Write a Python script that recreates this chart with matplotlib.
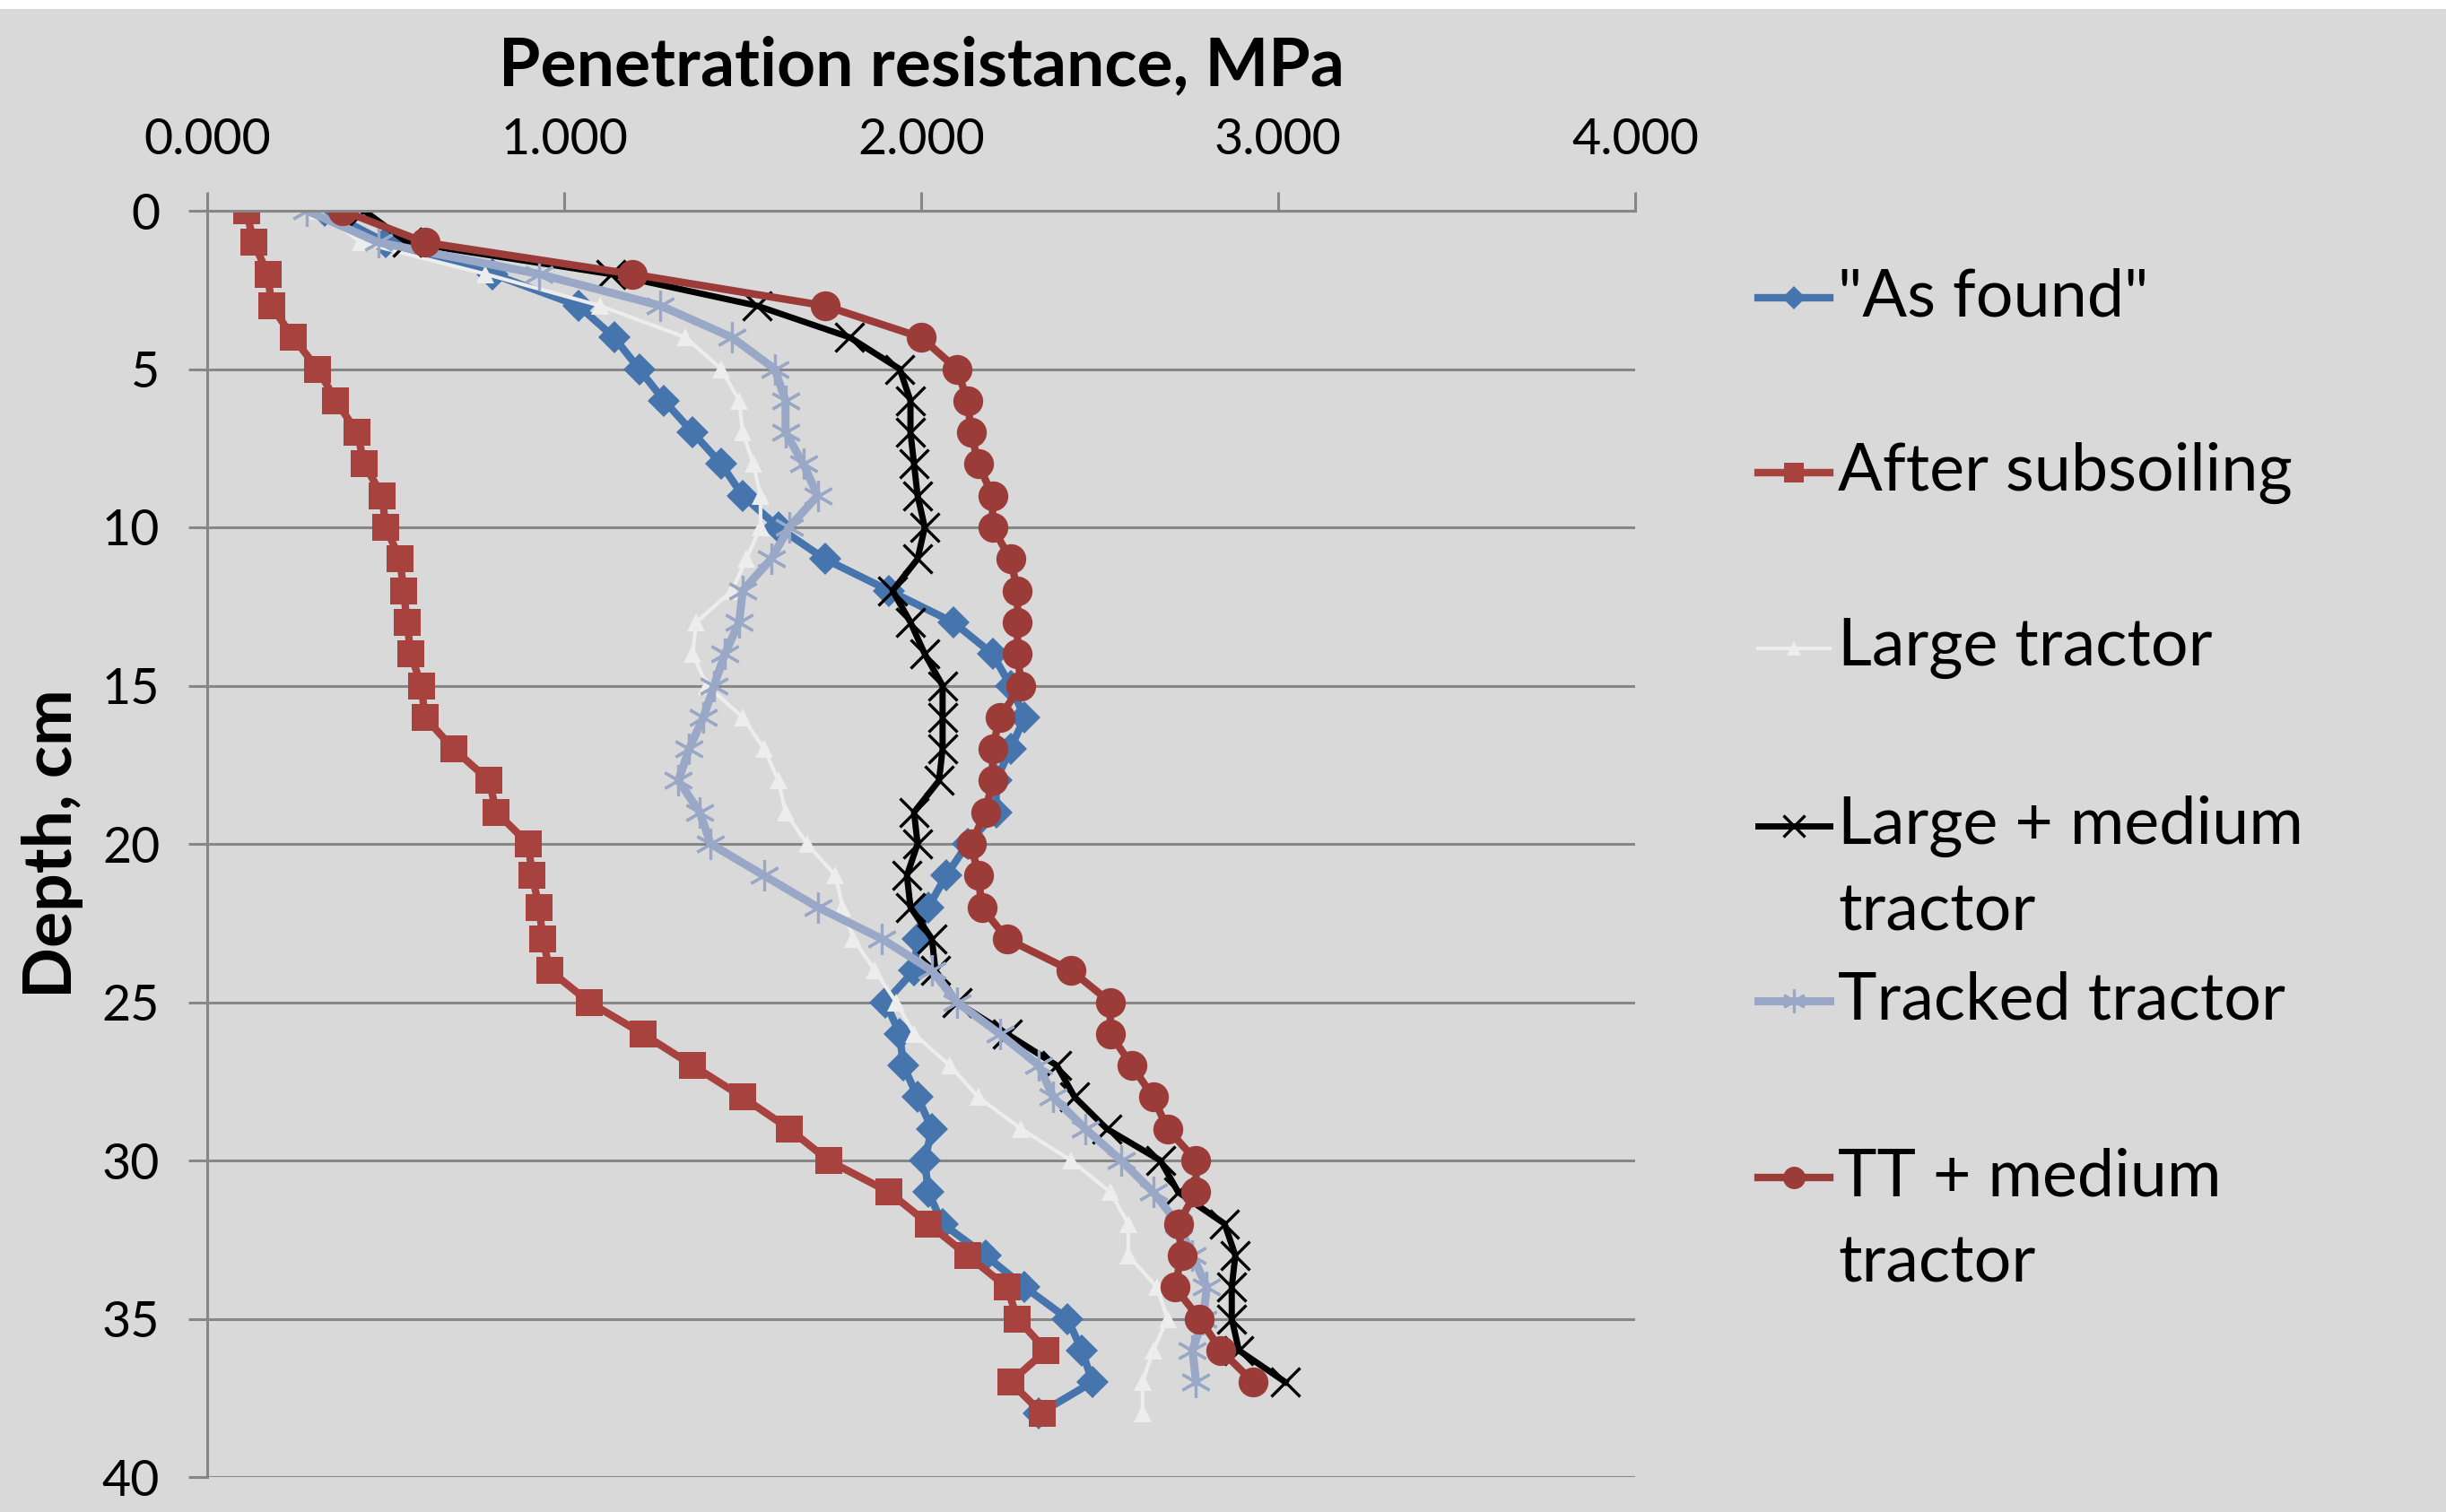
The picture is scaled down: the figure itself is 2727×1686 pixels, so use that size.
import numpy as np
import matplotlib.pyplot as plt
from matplotlib.lines import Line2D
from matplotlib.patches import Rectangle
from matplotlib.ticker import FormatStrFormatter

plt.rcParams['font.family'] = ['Lato', 'DejaVu Sans']

# Глубина, см (шаг 1 см)
depth = np.arange(0, 39)

# Сопротивление пенетрации, МПа
as_found = [0.33, 0.50, 0.80, 1.04, 1.14, 1.21, 1.28, 1.36, 1.44, 1.50,
            1.60, 1.73, 1.91, 2.09, 2.20, 2.25, 2.29, 2.25, 2.21, 2.21,
            2.13, 2.07, 2.02, 1.99, 1.98, 1.90, 1.94, 1.95, 1.99, 2.03,
            2.01, 2.02, 2.06, 2.18, 2.29, 2.41, 2.45, 2.48, 2.33]
after_subsoiling = [0.11, 0.13, 0.17, 0.18, 0.24, 0.31, 0.36, 0.42, 0.44, 0.49,
                    0.50, 0.54, 0.55, 0.56, 0.57, 0.60, 0.61, 0.69, 0.79, 0.81,
                    0.90, 0.91, 0.93, 0.94, 0.96, 1.07, 1.22, 1.36, 1.50, 1.63,
                    1.74, 1.91, 2.02, 2.13, 2.24, 2.27, 2.35, 2.25, 2.34]
large_tractor = [0.31, 0.43, 0.78, 1.10, 1.34, 1.44, 1.49, 1.50, 1.53, 1.55,
                 1.55, 1.51, 1.47, 1.37, 1.36, 1.40, 1.50, 1.56, 1.60, 1.62,
                 1.68, 1.76, 1.78, 1.81, 1.87, 1.93, 1.98, 2.08, 2.16, 2.28,
                 2.42, 2.53, 2.58, 2.58, 2.66, 2.69, 2.65, 2.62, 2.62]
large_medium = [0.44, 0.56, 1.13, 1.54, 1.80, 1.94, 1.97, 1.97, 1.98, 1.99,
                2.01, 1.99, 1.92, 1.97, 2.01, 2.06, 2.06, 2.06, 2.05, 1.98,
                1.99, 1.96, 1.97, 2.03, 2.04, 2.10, 2.24, 2.38, 2.43, 2.52,
                2.67, 2.72, 2.85, 2.88, 2.87, 2.87, 2.89, 3.02]
tracked = [0.28, 0.48, 0.93, 1.27, 1.47, 1.59, 1.62, 1.62, 1.67, 1.71,
           1.63, 1.58, 1.50, 1.49, 1.45, 1.42, 1.39, 1.35, 1.32, 1.38,
           1.41, 1.56, 1.71, 1.89, 2.03, 2.10, 2.22, 2.33, 2.37, 2.46,
           2.56, 2.65, 2.72, 2.76, 2.80, 2.79, 2.76, 2.77]
tt_medium = [0.38, 0.61, 1.19, 1.73, 2.00, 2.10, 2.13, 2.14, 2.16, 2.20,
             2.20, 2.25, 2.27, 2.27, 2.27, 2.28, 2.22, 2.20, 2.20, 2.18,
             2.14, 2.16, 2.17, 2.24, 2.42, 2.53, 2.53, 2.59, 2.65, 2.69,
             2.77, 2.77, 2.72, 2.73, 2.71, 2.78, 2.84, 2.93]

labels = ['"As found"', 'After subsoiling', 'Large tractor',
          'Large + medium\ntractor', 'Tracked tractor', 'TT + medium\ntractor']
x_ticks = [0, 1, 2, 3, 4]
y_ticks = [0, 5, 10, 15, 20, 25, 30, 35, 40]

series = [as_found, after_subsoiling, large_tractor, large_medium, tracked, tt_medium]
styles = [
    dict(color='#4674AC', marker='D', ms=18, lw=6, mew=0),
    dict(color='#A8423F', marker='s', ms=22, lw=6, mew=0),
    dict(color='#EDEDED', marker='^', ms=15, lw=3, mew=0),
    dict(color='#000000', marker='x', ms=23, lw=5, mew=2.4),
    dict(color='#98A8C6', marker=(6, 2, 0), ms=25, lw=6.5, mew=2.3),
    dict(color='#9B3C38', marker='o', ms=24, lw=6, mew=0),
]

W, H = 2727, 1686
bg = '#D9D9D9'
grid_c = '#878787'

fig = plt.figure(figsize=(W / 100, H / 100), dpi=100, facecolor=bg)
ax = fig.add_axes([231 / W, 1 - 1647 / H, 1592 / W, 1412 / H])
ax.set_facecolor('none')

for vals, st in zip(series, styles):
    ax.plot(vals, depth[:len(vals)], solid_joinstyle='round', **st)

ax.set_xlim(0, 4)
ax.set_ylim(40, 0)
ax.set_xticks(x_ticks)
ax.set_yticks(y_ticks)
ax.xaxis.set_major_formatter(FormatStrFormatter('%.3f'))
ax.xaxis.tick_top()
ax.xaxis.set_label_position('top')
ax.yaxis.grid(True, color=grid_c, lw=2.2)
ax.set_axisbelow(True)
for s in ['right', 'bottom']:
    ax.spines[s].set_visible(False)
for s in ['top', 'left']:
    ax.spines[s].set_color(grid_c)
    ax.spines[s].set_linewidth(2.2)
ax.tick_params(axis='both', direction='out', length=15, width=2.2,
               color=grid_c, labelsize=40, pad=23)

ax.set_xlabel('Penetration resistance, MPa', fontsize=54, fontweight='bold', labelpad=26)
ax.set_ylabel('Depth, cm', fontsize=54, fontweight='bold', labelpad=15)

# легенда справа, как в Excel
leg_y = [332, 527, 723, 921, 1116, 1313]
for lab, st, ly in zip(labels, styles, leg_y):
    yf = 1 - ly / H
    fig.add_artist(Line2D([1960 / W, 2040 / W], [yf, yf], transform=fig.transFigure,
                          color=st['color'], lw=st['lw']))
    fig.add_artist(Line2D([2000 / W], [yf], transform=fig.transFigure,
                          color=st['color'], marker=st['marker'],
                          ms=st['ms'] * 0.75, mew=st['mew'], lw=0))
    for k, part in enumerate(lab.split('\n')):
        fig.text(2049 / W, 1 - (ly + k * 96) / H, part, fontsize=53, va='center', ha='left')

# белая полоска сверху
fig.add_artist(Rectangle((0, 1 - 10 / H), 1, 10 / H, transform=fig.transFigure,
                         facecolor='white', edgecolor='none'))

fig.savefig('out.png', dpi=100, facecolor=bg)
